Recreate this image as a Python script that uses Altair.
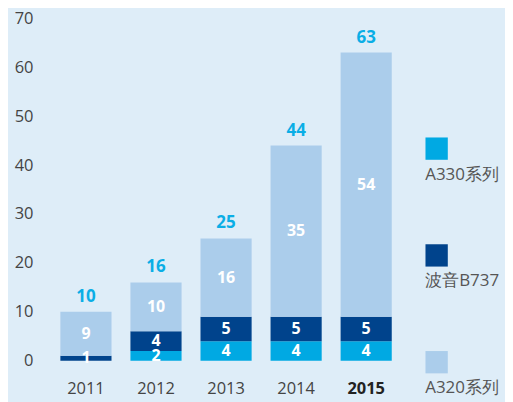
import altair as alt
import pandas as pd

years = ["2011", "2012", "2013", "2014", "2015"]
series = ["A330系列", "波音B737", "A320系列"]
a330 = [0, 2, 4, 4, 4]
b737 = [1, 4, 5, 5, 5]
a320 = [9, 10, 16, 35, 54]
colors = ["#00a9e3", "#00438c", "#abcdeb"]

rows = []
for i, y in enumerate(years):
    for k, (s, vals) in enumerate(zip(series, [a330, b737, a320])):
        rows.append({"year": y, "series": s, "value": vals[i], "order": k})
df = pd.DataFrame(rows)
leg = pd.DataFrame({"series": series})

FONT = "Open Sans"
BG = "#deedf8"

x = alt.X("year:N", sort=years, title=None,
          scale=alt.Scale(paddingInner=0.27, paddingOuter=0.135),
          axis=alt.Axis(labelAngle=0, ticks=False, domain=False, labelPadding=20,
                        labelFontSize=16.5, labelFont=FONT,
                        labelColor=alt.condition("datum.value == '2015'", alt.value("#222222"), alt.value("#444444")),
                        labelFontWeight=alt.condition("datum.value == '2015'", alt.value("bold"), alt.value("normal"))))
yscale = alt.Scale(domain=[0, 70])
color = alt.Color("series:N", sort=series, scale=alt.Scale(domain=series, range=colors), legend=None)

base = alt.Chart(df)

bars = base.mark_bar().encode(
    x=x,
    y=alt.Y("sum(value):Q", stack="zero", scale=yscale, title=None,
            axis=alt.Axis(values=list(range(0, 71, 10)), grid=False, ticks=False, domain=False,
                          labelPadding=18, labelFontSize=16.5, labelFont=FONT, labelColor="#444444")),
    color=color,
    order=alt.Order("order:Q"),
)

seg = base.transform_stack(
    stack="value", groupby=["year"], sort=[alt.SortField("order")], as_=["y0", "y1"]
).transform_calculate(mid="(datum.y0 + datum.y1) / 2").transform_filter("datum.value > 0").mark_text(
    color="white", fontSize=16, fontWeight="bold", font=FONT, baseline="middle"
).encode(x=alt.X("year:N", sort=years), y=alt.Y("mid:Q", scale=yscale), text="value:Q")

tot = base.transform_aggregate(total="sum(value)", groupby=["year"]).mark_text(
    color="#0aaee6", fontSize=17, fontWeight="bold", font=FONT, baseline="middle", dy=-15
).encode(x=alt.X("year:N", sort=years), y=alt.Y("total:Q", scale=yscale), text="total:Q")

main = alt.layer(bars, seg, tot).properties(width=351, height=343)

lscale = alt.Scale(domain=series, range=[130.5, 344.5], padding=0)
lsq = alt.Chart(leg).mark_square(size=500, opacity=1).encode(
    x=alt.value(11.5), y=alt.Y("series:N", scale=lscale, axis=None), color=color)
ltxt = alt.Chart(leg).mark_text(align="left", baseline="middle", dy=26, fontSize=17, font=FONT, color="#555555").encode(
    x=alt.value(0), y=alt.Y("series:N", scale=lscale, axis=None), text="series:N")
legend = alt.layer(lsq, ltxt).properties(width=80, height=343)

chart = alt.hconcat(main, legend, spacing=24).configure(background=BG).configure_view(stroke=None).properties(
    padding={"left": 6, "top": 2, "right": 0, "bottom": 20})

chart.save("out.html", embed_options={"renderer": "svg", "actions": False})
